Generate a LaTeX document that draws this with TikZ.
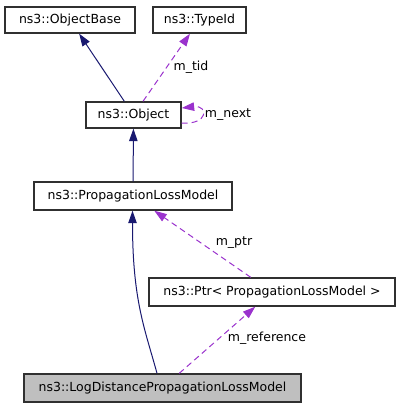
\documentclass[tikz,border=0pt]{standalone}
\usepackage{fontspec}
\setmainfont{DejaVu Sans}
\usetikzlibrary{arrows.meta}
\definecolor{inhcol}{HTML}{191970}
\definecolor{usecol}{HTML}{9A32CD}
\definecolor{boxline}{HTML}{303030}
\definecolor{curfill}{HTML}{BFBFBF}
\tikzset{
  cls/.style={draw=boxline, line width=1.4bp, fill=white, inner sep=0pt, minimum height=26bp,
    font=\fontsize{12.5bp}{14bp}\selectfont},
  inherit/.style={draw=inhcol, line width=1bp, -{Triangle[length=12.5bp,width=8.5bp]}},
  usage/.style={draw=usecol, line width=1bp, dashed, dash pattern=on 6bp off 4bp, -{Triangle[length=12.5bp,width=8.5bp]}},
  lbl/.style={inner sep=0pt, font=\fontsize{12.5bp}{14bp}\selectfont}
}
\begin{document}
\begin{tikzpicture}[x=1bp,y=1bp]
\useasboundingbox (0,0) rectangle (400,408);
\node[cls, minimum width=130bp] (ObjectBase) at (70,388) {ns3::ObjectBase};
\node[cls, minimum width=93bp] (TypeId) at (199.5,388) {ns3::TypeId};
\node[cls, minimum width=95bp] (Object) at (133.5,293) {ns3::Object};
\node[cls, minimum width=198bp, minimum height=28bp] (PLM) at (133,212) {ns3::PropagationLossModel};
\node[cls, minimum width=246bp, minimum height=28bp] (Ptr) at (272,116) {ns3::Ptr< PropagationLossModel >};
\node[cls, minimum width=277bp, minimum height=28bp, fill=curfill] (LogDist) at (162.5,20) {ns3::LogDistancePropagationLossModel};

\draw[inherit] (Object) -- (ObjectBase);
\draw[usage] (Object) -- (TypeId);
\node[lbl] (ltid) at (191,341) {m\_tid};
\draw[usage] ([yshift=-8bp]Object.east) .. controls +(27,-2) and +(27,3) .. ([yshift=7bp]Object.east);
\node[lbl] (lnext) at (228,293) {m\_next};
\draw[inherit] (PLM) -- (Object);
\draw[usage] (Ptr) -- (PLM);
\node[lbl] (lptr) at (234,165) {m\_ptr};
\draw[usage] (LogDist) -- (Ptr);
\node[lbl] (lref) at (267,70) {m\_reference};
\draw[inherit] ([xshift=-5.5bp]LogDist.north) .. controls +(-12,44) and +(0,-90) .. ([xshift=-0.5bp]PLM.south);
\end{tikzpicture}
\end{document}
